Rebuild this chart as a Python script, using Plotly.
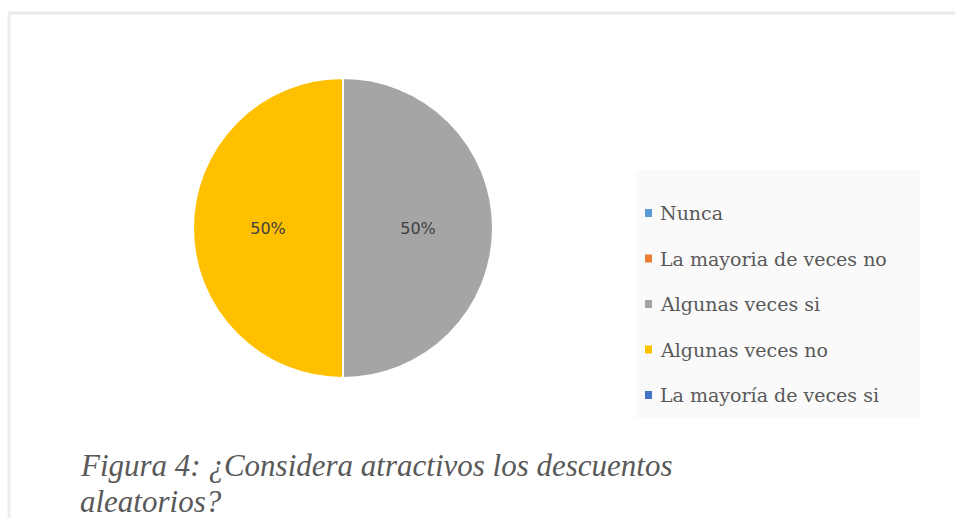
import plotly.graph_objects as go

# Survey answers and their share of responses (percent)
labels = ["Nunca", "La mayoria de veces no", "Algunas veces si",
          "Algunas veces no", "La mayoría de veces si"]
values = [0, 0, 50, 50, 0]
colors = ["#5B9BD5", "#ED7D31", "#A5A5A5", "#FFC000", "#4472C4"]
caption_lines = ["Figura 4: ¿Considera atractivos los descuentos",
                 "aleatorios?"]

W, H = 955, 518

fig = go.Figure()
fig.add_trace(go.Pie(
    labels=labels,
    values=values,
    sort=False,
    direction="clockwise",
    rotation=0,
    marker=dict(colors=colors, line=dict(color="white", width=2)),
    textinfo="percent",
    texttemplate="%{percent:.0%}",
    textposition="inside",
    insidetextorientation="horizontal",
    textfont=dict(family="DejaVu Sans", size=16, color="#404040"),
    domain=dict(x=[193 / W, 493 / W], y=[1 - 378 / H, 1 - 78 / H]),
    showlegend=False,
    hoverinfo="label+percent",
))

shapes = [
    # chart frame (top and left edges)
    dict(type="line", xref="paper", yref="paper", x0=8 / W, x1=1.0,
         y0=1 - 13 / H, y1=1 - 13 / H, line=dict(color="#E9E9E9", width=3)),
    dict(type="line", xref="paper", yref="paper", x0=9 / W, x1=9 / W,
         y0=0, y1=1 - 13 / H, line=dict(color="#EDEDED", width=3)),
    # legend panel
    dict(type="rect", xref="paper", yref="paper", x0=636 / W, x1=920 / W,
         y0=1 - 418 / H, y1=1 - 170 / H, fillcolor="#FAFAFA",
         line=dict(width=0), layer="below"),
]

annotations = []
legend_top, legend_step = 213, 45.5
for i, (lab, col) in enumerate(zip(labels, colors)):
    yc = legend_top + i * legend_step
    shapes.append(dict(type="rect", xref="paper", yref="paper",
                       x0=645 / W, x1=652 / W,
                       y0=1 - (yc + 4) / H, y1=1 - (yc - 4) / H,
                       fillcolor=col, line=dict(width=0)))
    annotations.append(dict(text=lab, xref="paper", yref="paper",
                            x=658 / W, y=1 - yc / H, xanchor="left",
                            yanchor="middle", showarrow=False,
                            font=dict(family="DejaVu Serif", size=19,
                                      color="#595959")))

# figure caption, two italic lines below the chart
for j, line in enumerate(caption_lines):
    annotations.append(dict(
        text="<i>" + line + "</i>", xref="paper", yref="paper",
        x=78 / W, y=1 - (446 + j * 36) / H, xanchor="left", yanchor="top",
        align="left", showarrow=False,
        font=dict(family="Liberation Serif", size=31, color="#595959"),
    ))

fig.update_layout(
    width=W, height=H,
    margin=dict(l=0, r=0, t=0, b=0),
    paper_bgcolor="white",
    plot_bgcolor="white",
    shapes=shapes,
    annotations=annotations,
)

fig.write_html("out.html")
